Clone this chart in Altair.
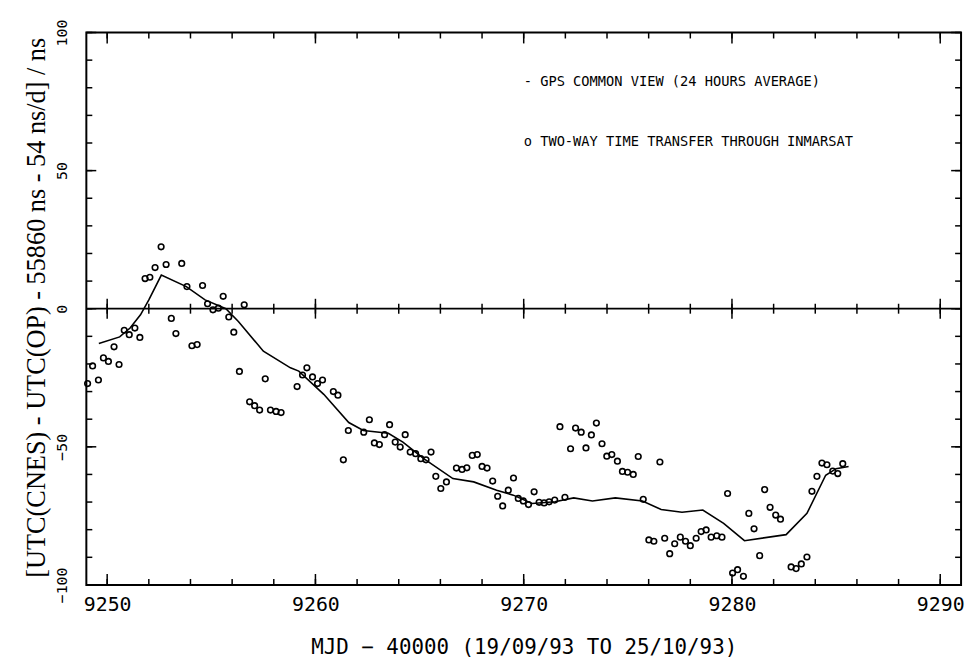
import altair as alt
import pandas as pd

# GPS common view (24 hours average) - line
gps_mjd = [9249.6, 9250.6, 9251.1, 9251.6, 9252.0, 9252.6, 9253.8, 9254.7, 9255.7, 9256.3,
           9257.5, 9258.8, 9259.2, 9260.4, 9261.6, 9262.3, 9263.5, 9264.2, 9265.2, 9266.6,
           9267.6, 9268.7, 9269.5, 9270.4, 9271.5, 9272.4, 9273.3, 9274.4, 9275.7, 9276.6,
           9277.6, 9278.6, 9279.6, 9280.6, 9282.6, 9283.6, 9284.5, 9285.0, 9285.6]
gps_ns = [-12.6, -10.2, -7.0, -2.2, 3.2, 12.2, 8.0, 3.2, 0.0, -4.6,
          -15.4, -21.4, -22.6, -31.0, -41.2, -44.1, -45.1, -48.3, -54.3, -61.5,
          -62.7, -65.7, -67.5, -70.5, -69.9, -68.5, -69.6, -68.5, -69.6, -72.7,
          -73.7, -72.9, -77.7, -84.0, -81.8, -74.1, -60.3, -57.9, -57.1]

# Two-way time transfer through INMARSAT - open circles
tw_mjd = [9249.06, 9249.30, 9249.58, 9249.82, 9250.06, 9250.33, 9250.57, 9250.82, 9251.06, 9251.33,
          9251.57, 9251.82, 9252.05, 9252.30, 9252.59, 9252.83, 9253.08, 9253.30, 9253.58, 9253.83,
          9254.07, 9254.32, 9254.58, 9254.82, 9255.08, 9255.34, 9255.57, 9255.84, 9256.08, 9256.35,
          9256.58, 9256.84, 9257.08, 9257.32, 9257.59, 9257.84, 9258.11, 9258.35, 9259.12, 9259.38,
          9259.59, 9259.86, 9260.10, 9260.34, 9260.86, 9261.08, 9261.34, 9261.58, 9262.32, 9262.59,
          9262.83, 9263.07, 9263.32, 9263.56, 9263.83, 9264.07, 9264.31, 9264.55, 9264.81, 9265.06,
          9265.31, 9265.55, 9265.78, 9266.02, 9266.29, 9266.77, 9267.04, 9267.27, 9267.53, 9267.77,
          9268.00, 9268.24, 9268.51, 9268.75, 9268.99, 9269.26, 9269.51, 9269.74, 9269.98, 9270.23,
          9270.50, 9270.74, 9270.98, 9271.22, 9271.49, 9271.74, 9271.98, 9272.25, 9272.49, 9272.76,
          9272.99, 9273.25, 9273.49, 9273.76, 9273.99, 9274.23, 9274.50, 9274.74, 9274.99, 9275.26,
          9275.50, 9275.74, 9276.01, 9276.25, 9276.54, 9276.77, 9277.01, 9277.25, 9277.52, 9277.77,
          9278.00, 9278.28, 9278.52, 9278.76, 9279.00, 9279.27, 9279.52, 9279.79, 9280.03, 9280.27,
          9280.55, 9280.81, 9281.06, 9281.33, 9281.57, 9281.83, 9282.10, 9282.33, 9282.84, 9283.08,
          9283.33, 9283.60, 9283.84, 9284.08, 9284.32, 9284.56, 9284.84, 9285.08, 9285.32]
tw_ns = [-27.1, -20.7, -25.8, -17.8, -19.1, -13.8, -20.2, -7.8, -9.4, -7.0,
         -10.4, 10.9, 11.4, 14.9, 22.4, 16.0, -3.5, -9.0, 16.4, 8.0,
         -13.4, -13.0, 8.4, 1.8, -0.4, 0.2, 4.5, -3.0, -8.5, -22.7,
         1.4, -33.7, -35.1, -36.7, -25.4, -36.7, -37.2, -37.6, -28.2, -24.0,
         -21.4, -24.7, -27.1, -25.8, -30.0, -31.3, -54.7, -44.1, -44.7, -40.2,
         -48.6, -49.2, -45.6, -42.0, -48.3, -50.1, -45.6, -51.9, -52.5, -54.3,
         -54.7, -51.9, -60.7, -65.1, -62.7, -57.7, -58.2, -57.6, -53.1, -52.8,
         -57.1, -57.7, -62.4, -67.9, -71.4, -65.7, -61.3, -68.7, -69.6, -70.9,
         -66.3, -70.1, -70.3, -69.9, -69.3, -42.7, -68.3, -50.7, -43.2, -44.7,
         -50.4, -45.7, -41.4, -48.9, -53.4, -52.8, -55.2, -58.9, -59.2, -60.0,
         -53.5, -69.0, -83.7, -84.2, -55.5, -83.1, -88.7, -85.1, -82.7, -84.2,
         -85.8, -83.1, -80.7, -80.1, -82.7, -82.2, -82.7, -66.9, -95.7, -94.5,
         -96.9, -74.1, -79.7, -89.4, -65.5, -71.9, -74.7, -76.2, -93.5, -94.1,
         -92.4, -89.9, -66.1, -60.7, -55.9, -56.5, -58.8, -59.7, -56.1]

x_tick_values = list(range(9250, 9291, 2))
x_label_values = [9250, 9260, 9270, 9280, 9290]
y_tick_values = list(range(-100, 101, 10))
y_label_values = [-100, -50, 0, 50, 100]
legend_lines = ["- GPS COMMON VIEW (24 HOURS AVERAGE)",
                "o TWO-WAY TIME TRANSFER THROUGH INMARSAT"]
x_title = "MJD \u2212 40000 (19/09/93 TO 25/10/93)"
y_title = "[UTC(CNES) - UTC(OP) - 55860 ns - 54 ns/d] / ns"

W, H = 882, 557
MONO = "DejaVu Sans Mono"

xs = alt.Scale(domain=[9249, 9291], nice=False, zero=False)
ys = alt.Scale(domain=[-100, 100], nice=False, zero=False)

gps_df = pd.DataFrame({"mjd": gps_mjd, "ns": gps_ns})
tw_df = pd.DataFrame({"mjd": tw_mjd, "ns": tw_ns})
xt_df = pd.DataFrame({"mjd": x_tick_values})
xm_df = pd.DataFrame({"mjd": x_label_values})
yt_df = pd.DataFrame({"ns": y_tick_values})
ym_df = pd.DataFrame({"ns": y_label_values})

x_axis = alt.Axis(values=x_label_values, format="d", ticks=False, tickSize=0, domain=False,
                  grid=False, labelFont=MONO, labelFontSize=20, labelPadding=10,
                  labelColor="black", labelFlush=False,
                  title=x_title, titleFont=MONO, titleFontSize=21, titleFontWeight="normal",
                  titleColor="black", titleY=52, titleBaseline="top")
y_axis = alt.Axis(values=y_label_values, ticks=False, tickSize=0, domain=False, grid=False,
                  labelAngle=270, labelAlign="center", labelBaseline="middle",
                  labelPadding=25, labelFont=MONO, labelFontSize=15, labelColor="black",
                  labelFlush=False,
                  title=y_title, titleFont="Liberation Serif", titleFontSize=26.5,
                  titleFontWeight="normal", titleColor="black", titleAngle=270,
                  titleX=-50, titleY=277, titleAlign="center", titleBaseline="middle")

X = alt.X("mjd:Q", scale=xs, axis=x_axis)
Y = alt.Y("ns:Q", scale=ys, axis=y_axis)

points = alt.Chart(tw_df).mark_point(shape="circle", filled=False, color="black",
                                      size=32, strokeWidth=1.6, opacity=1).encode(x=X, y=Y)
line = alt.Chart(gps_df).mark_line(color="black", strokeWidth=1.6).encode(x=X, y=Y)

zero = alt.Chart(pd.DataFrame({"ns": [0]})).mark_rule(color="black", strokeWidth=1.8).encode(y=Y)

def vticks(df, yval, size, offset):
    return alt.Chart(df).mark_tick(orient="vertical", color="black", size=size,
                                   thickness=1.5, yOffset=offset, opacity=1).encode(
        x=X, y=alt.datum(yval))

def hticks(df, xval, size, offset):
    return alt.Chart(df).mark_tick(orient="horizontal", color="black", size=size,
                                   thickness=1.5, xOffset=offset, opacity=1).encode(
        y=Y, x=alt.datum(xval))

tick_layers = [
    vticks(xt_df, 0, 10, 0), vticks(xm_df, 0, 20, 0),
    vticks(xt_df, -100, 6, -3), vticks(xm_df, -100, 11, -5.5),
    vticks(xt_df, 100, 6, 3), vticks(xm_df, 100, 11, 5.5),
    hticks(yt_df, 9249, 6, 3), hticks(ym_df, 9249, 10, 5),
    hticks(yt_df, 9291, 6, -3), hticks(ym_df, 9291, 10, -5),
]

legend_layers = []
for txt, yv in zip(legend_lines, [82.0, 60.2]):
    legend_layers.append(
        alt.Chart(pd.DataFrame({"t": [txt]})).mark_text(
            align="left", baseline="middle", font=MONO, fontSize=13.8, color="black").encode(
            x=alt.datum(9270.0), y=alt.datum(yv), text="t:N"))

chart = alt.layer(points, line, zero, *tick_layers, *legend_layers).properties(
    width=W, height=H,
    autosize=alt.AutoSizeParams(type="none"),
    padding={"left": 79, "top": 22, "right": 7, "bottom": 74},
    background="white",
).configure_view(stroke="black", strokeWidth=2)

chart.save("out.html", embed_options={"renderer": "svg", "actions": False})
